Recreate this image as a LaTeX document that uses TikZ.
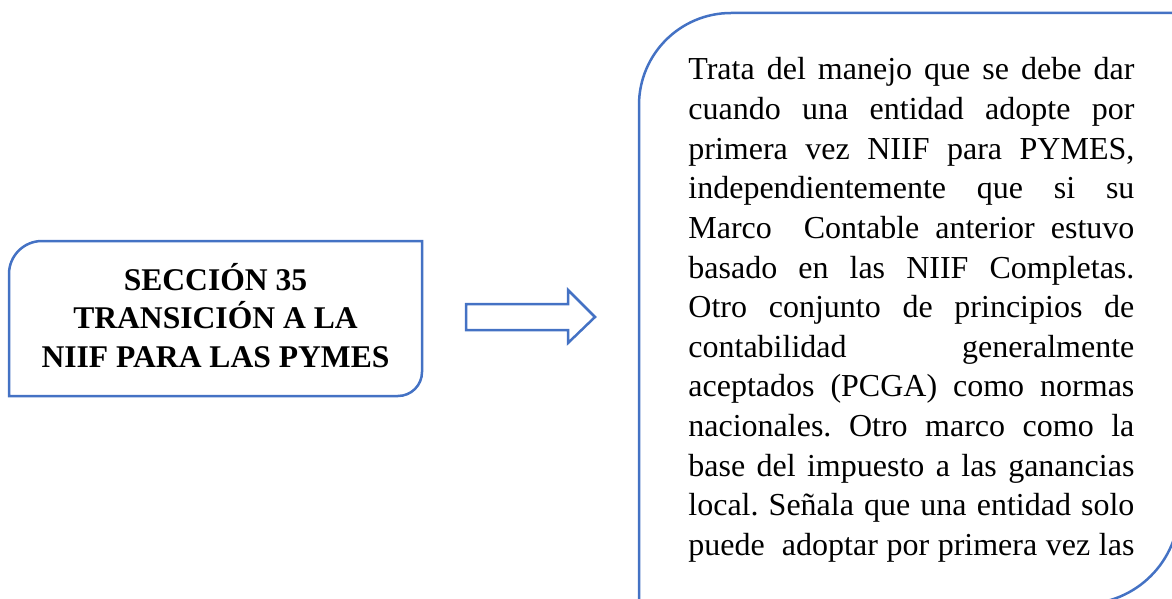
\documentclass[tikz,border=0pt]{standalone}
\usepackage{fontspec}
\setmainfont{Liberation Serif}
\definecolor{azul}{HTML}{4472C4}
\frenchspacing
\begin{document}
\begin{tikzpicture}[x=0.5pt,y=-0.5pt,
    borde/.style={draw=azul,line width=1.25pt,line join=miter},
    caja/.style={inner sep=0pt,outer sep=0pt},
    titulo/.style={anchor=base,inner sep=0pt,font=\fontsize{15.8}{19}\selectfont\bfseries},
    texto/.style={anchor=base west,inner sep=0pt,font=\fontsize{16}{19.8}\selectfont}]
\clip (0,0) rectangle (1172,599);
\node[caja,minimum width=206.5pt,minimum height=77.5pt] (seccion) at (215.5,318.5) {};
\node[caja,minimum width=270pt,minimum height=295.5pt] (nota) at (909,308.5) {};
% cajas
\draw[borde] (seccion.south west) -- ([yshift=-16.5pt]seccion.north west)
    arc[start angle=180,end angle=90,radius=16.5pt] -- (seccion.north east)
    -- ([yshift=12pt]seccion.south east) arc[start angle=0,end angle=-90,radius=12pt] -- cycle;
\draw[borde] (nota.south west) -- ([yshift=-46pt]nota.north west)
    arc[start angle=180,end angle=90,radius=46pt] -- (nota.north east)
    -- ([yshift=48pt]nota.south east) arc[start angle=0,end angle=-90,radius=48pt] -- cycle;
% flecha
\draw[borde](466,304)--(568,304)--(568,290)--(595,317)--(568,343)--(568,330)--(466,330)--cycle;
\foreach \t [count=\i] in {SECCIÓN 35,TRANSICIÓN A LA,NIIF PARA LAS PYMES}
    \node[titulo] (tit\i) at (215.5,{290+38.5*(\i-1)}) {\t};
\foreach \t [count=\i] in {Trata del manejo que se debe dar,
    cuando una entidad adopte por,
    {primera vez NIIF para PYMES,},
    independientemente que si su,
    Marco\ \ Contable anterior estuvo,
    basado en las NIIF Completas.,
    Otro conjunto de principios de,
    contabilidad generalmente,
    aceptados (PCGA) como normas,
    nacionales. Otro marco como la,
    base del impuesto a las ganancias,
    local. Señala que una entidad solo,
    puede\ \ adoptar por primera vez las}
    \node[texto] (lin\i) at (688,{80+39.6*(\i-1)}) {\makebox[223pt][s]{\t}};
\end{tikzpicture}
\end{document}
